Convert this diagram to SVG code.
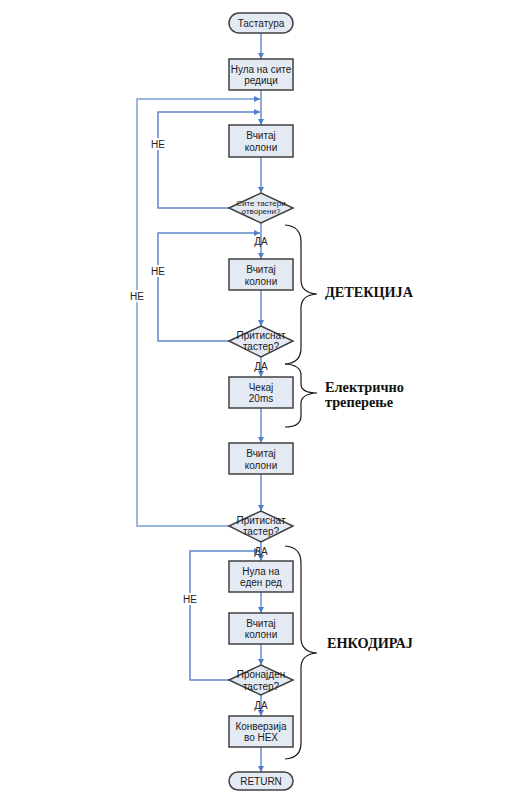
<svg xmlns="http://www.w3.org/2000/svg" width="510" height="809" viewBox="0 0 510 809">
<style>
.box{fill:#e4eaf4;stroke:#404040;stroke-width:1.5}
.t{font-family:"Liberation Sans",Arial,sans-serif;font-size:10px;fill:#1a1a1a;text-anchor:middle}
.s{font-size:8px}
.lbl{font-family:"Liberation Sans",Arial,sans-serif;font-size:10px;fill:#2a2020;text-anchor:middle}
.main{stroke:#8eaadb;stroke-width:2;fill:none}
.loop{stroke:#5b87c8;stroke-width:1.5;fill:none}
.outer{stroke:#9db6df;stroke-width:2;fill:none}
.brace{stroke:#1a1a1a;stroke-width:1.2;fill:none}
.big{font-family:"Liberation Serif","Times New Roman",serif;font-weight:bold;font-size:15px;fill:#111}
</style>
<defs>
<marker id="ah" viewBox="0 0 10 10" refX="10" refY="5" markerWidth="6" markerHeight="6" markerUnits="userSpaceOnUse" orient="auto">
<path d="M0,0 L10,5 L0,10 z" fill="#4f7fc4"/>
</marker>
</defs>
<g id="connectors">
<path class="main" d="M261,33 V59" marker-end="url(#ah)"/>
<path class="main" d="M261,90 V125" marker-end="url(#ah)"/>
<path class="main" d="M261,157 V193" marker-end="url(#ah)"/>
<path class="main" d="M261,223 V259" marker-end="url(#ah)"/>
<path class="main" d="M261,290 V326" marker-end="url(#ah)"/>
<path class="main" d="M261,357 V377" marker-end="url(#ah)"/>
<path class="main" d="M261,408 V443" marker-end="url(#ah)"/>
<path class="main" d="M261,474 V511" marker-end="url(#ah)"/>
<path class="main" d="M261,542 V561" marker-end="url(#ah)"/>
<path class="main" d="M261,592 V613" marker-end="url(#ah)"/>
<path class="main" d="M261,644 V665" marker-end="url(#ah)"/>
<path class="main" d="M261,695 V716" marker-end="url(#ah)"/>
<path class="main" d="M261,747 V772" marker-end="url(#ah)"/>
<path class="outer" d="M229,526 H137 V99 H260" marker-end="url(#ah)"/>
<path class="loop" d="M229,208 H158 V112 H260" marker-end="url(#ah)"/>
<path class="loop" d="M229,341 H158 V233 H260" marker-end="url(#ah)"/>
<path class="loop" d="M229,680 H190 V551 H260" marker-end="url(#ah)"/>
<rect x="151" y="138" width="14" height="12" fill="#fff"/>
<text class="lbl" x="158" y="148">НЕ</text>
<rect x="151" y="265" width="14" height="12" fill="#fff"/>
<text class="lbl" x="158" y="275">НЕ</text>
<rect x="130" y="290" width="14" height="12" fill="#fff"/>
<text class="lbl" x="137" y="300">НЕ</text>
<rect x="183" y="593" width="14" height="12" fill="#fff"/>
<text class="lbl" x="190" y="603">НЕ</text>
<text class="lbl" x="261" y="245">ДА</text>
<text class="lbl" x="261" y="370">ДА</text>
<text class="lbl" x="261" y="555">ДА</text>
<text class="lbl" x="261" y="709">ДА</text>
</g>
<g id="start">
<rect class="box" x="229" y="13" width="64" height="20" rx="10"/>
<text class="t" x="261" y="27">Тастатура</text>
</g>
<g id="zero-rows">
<rect class="box" x="229" y="59" width="64" height="31"/>
<text class="t" x="261" y="72.5">Нула на сите</text>
<text class="t" x="261" y="84">редици</text>
</g>
<g id="read1">
<rect class="box" x="229" y="125" width="64" height="32"/>
<text class="t" x="261" y="139">Вчитај</text>
<text class="t" x="261" y="150.5">колони</text>
</g>
<g id="dec1">
<polygon class="box" points="229,208 261,193 293,208 261,223"/>
<text class="t s" x="261" y="206">Сите тастери</text>
<text class="t s" x="261" y="214">отворени?</text>
</g>
<g id="read2">
<rect class="box" x="229" y="259" width="64" height="31"/>
<text class="t" x="261" y="273">Вчитај</text>
<text class="t" x="261" y="284.5">колони</text>
</g>
<g id="dec2">
<polygon class="box" points="229,341 261,326 293,341 261,357"/>
<text class="t" x="261" y="338.5">Притиснат</text>
<text class="t" x="261" y="350">тастер?</text>
</g>
<g id="wait">
<rect class="box" x="229" y="377" width="64" height="31"/>
<text class="t" x="261" y="390.5">Чекај</text>
<text class="t" x="261" y="402">20ms</text>
</g>
<g id="read3">
<rect class="box" x="229" y="443" width="64" height="31"/>
<text class="t" x="261" y="457">Вчитај</text>
<text class="t" x="261" y="468.5">колони</text>
</g>
<g id="dec3">
<polygon class="box" points="229,526 261,511 293,526 261,542"/>
<text class="t" x="261" y="523.5">Притиснат</text>
<text class="t" x="261" y="535">тастер?</text>
</g>
<g id="zero-one">
<rect class="box" x="229" y="561" width="64" height="31"/>
<text class="t" x="261" y="574.5">Нула на</text>
<text class="t" x="261" y="586">еден ред</text>
</g>
<g id="read4">
<rect class="box" x="229" y="613" width="64" height="31"/>
<text class="t" x="261" y="626.5">Вчитај</text>
<text class="t" x="261" y="638">колони</text>
</g>
<g id="dec4">
<polygon class="box" points="229,680 261,665 293,680 261,695"/>
<text class="t" x="261" y="678">Пронајден</text>
<text class="t" x="261" y="689.5">тастер?</text>
</g>
<g id="convert">
<rect class="box" x="229" y="716" width="64" height="31"/>
<text class="t" x="261" y="729.5">Конверзија</text>
<text class="t" x="261" y="741">во HEX</text>
</g>
<g id="return">
<rect class="box" x="229" y="772" width="64" height="18" rx="9"/>
<text class="t" x="261" y="785">RETURN</text>
</g>
<g id="brace-detect">
<path class="brace" d="M285,225 Q301,226 301,242 V280 Q301,293 317,294 Q301,295 301,308 V348 Q301,363 285,364"/>
<text class="big" x="325" y="297" textLength="88" lengthAdjust="spacingAndGlyphs">ДЕТЕКЦИЈА</text>
</g>
<g id="brace-bounce">
<path class="brace" d="M285,364 Q301,365 301,375 V384 Q301,393 317,393 Q301,394 301,403 V416 Q301,427 285,427"/>
<text class="big" x="325" y="392" textLength="79" lengthAdjust="spacingAndGlyphs">Електрично</text>
<text class="big" x="325" y="407" textLength="68" lengthAdjust="spacingAndGlyphs">треперење</text>
</g>
<g id="brace-encode">
<path class="brace" d="M285,546 Q301,547 301,563 V638 Q301,652 317,653 Q301,654 301,668 V743 Q301,758 285,759"/>
<text class="big" x="327" y="648" textLength="86" lengthAdjust="spacingAndGlyphs">ЕНКОДИРАЈ</text>
</g>
</svg>
